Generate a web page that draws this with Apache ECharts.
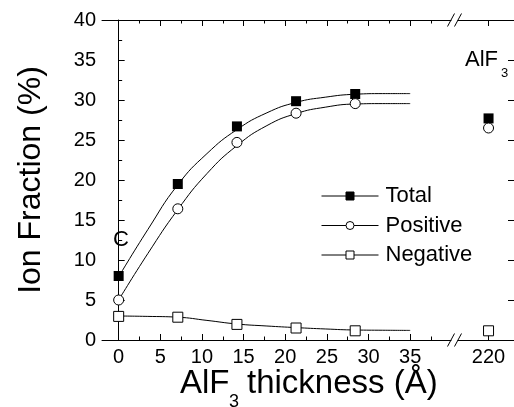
<!DOCTYPE html>
<html>
<head>
<meta charset="utf-8">
<script src="https://cdn.jsdelivr.net/npm/echarts@6/dist/echarts.min.js"></script>
<style>
html,body{margin:0;padding:0;background:#fff;}
#chart{width:514px;height:407px;}
</style>
</head>
<body>
<div id="chart"></div>
<script>
// ---- data ----
const thickness = [0, 7.1, 14.2, 21.3, 28.4];
const totalVals = [8.0, 19.5, 26.7, 29.85, 30.75];
const positiveVals = [5.0, 16.4, 24.7, 28.35, 29.55];
const negativeVals = [2.95, 2.85, 1.95, 1.5, 1.15];

const bulkThickness = [220];
const totalBulk = [27.7];
const positiveBulk = [26.5];
const negativeBulk = [1.15];

const fitX = [0, 3.5, 7.1, 10.6, 14.2, 17.8, 21.3, 24.8, 28.4, 31.7, 35];
const totalFit = [7.9, 13.8, 19.4, 23.3, 26.3, 28.4, 29.7, 30.35, 30.72, 30.8, 30.8];
const positiveFit = [5.0, 10.8, 16.3, 20.8, 24.3, 26.8, 28.3, 29.1, 29.5, 29.55, 29.55];
const negativeFit = [3.0, 2.95, 2.85, 2.45, 2.0, 1.75, 1.55, 1.38, 1.25, 1.22, 1.2];

const xMajorTicks = [0, 5, 10, 15, 20, 25, 30, 35];
const xMinorTicks = [2.5, 7.5, 12.5, 17.5, 22.5, 27.5, 32.5, 37.5];
const bulkTicks = [220];
const seriesNames = ['Total', 'Positive', 'Negative'];

// ---- helpers ----
const pair = (xs, ys) => xs.map((x, i) => [x, ys[i]]);
const FONT = '"Liberation Sans", Arial, sans-serif';
const BLACK = '#000';

function xAxisDef(grid, pos, min, max, ticks, len, showLine, labels) {
  return {
    type: 'value', gridIndex: grid, position: pos, min: min, max: max,
    axisLine: { show: showLine, onZero: false, lineStyle: { color: BLACK, width: 1 } },
    axisTick: { show: true, inside: true, length: len, customValues: ticks, lineStyle: { color: BLACK, width: 1 } },
    axisLabel: labels ? { show: true, customValues: ticks, color: BLACK, fontSize: 20, fontFamily: FONT, margin: 7 } : { show: false },
    splitLine: { show: false }
  };
}

const markerStyles = {
  Total: { symbol: 'rect', itemStyle: { color: BLACK, borderColor: BLACK, borderWidth: 0 } },
  Positive: { symbol: 'circle', itemStyle: { color: '#fff', borderColor: BLACK, borderWidth: 1 } },
  Negative: { symbol: 'rect', itemStyle: { color: '#fff', borderColor: BLACK, borderWidth: 1 } }
};

function pointSeries(name, data, xi, yi) {
  return {
    name: name, type: 'line', xAxisIndex: xi, yAxisIndex: yi, data: data,
    symbol: markerStyles[name].symbol, symbolSize: 10, showSymbol: true,
    itemStyle: markerStyles[name].itemStyle,
    lineStyle: { opacity: 0, width: 1, color: BLACK },
    z: 5, silent: true, clip: false
  };
}

function fitSeries(name, data) {
  return {
    name: name, type: 'line', xAxisIndex: 0, yAxisIndex: 0, data: data,
    symbol: 'none', smooth: true,
    lineStyle: { color: BLACK, width: 1 }, z: 3, silent: true
  };
}

const chart = echarts.init(document.getElementById('chart'), null, { renderer: 'canvas' });

const option = {
  animation: false,
  backgroundColor: '#fff',
  textStyle: { fontFamily: FONT },
  grid: [
    { left: 102, top: 20, width: 349, height: 320 },
    { left: 458, top: 20, width: 56, height: 320 }
  ],
  xAxis: [
    xAxisDef(0, 'bottom', -2, 39.9, xMajorTicks, 6, true, true),
    xAxisDef(0, 'bottom', -2, 39.9, xMinorTicks, 3.5, false, false),
    xAxisDef(0, 'top', -2, 39.9, xMajorTicks, 6, true, false),
    xAxisDef(0, 'top', -2, 39.9, xMinorTicks, 3.5, false, false),
    xAxisDef(1, 'bottom', 216.4, 223, bulkTicks, 6, true, true),
    xAxisDef(1, 'top', 216.4, 223, bulkTicks, 6, true, false)
  ],
  yAxis: [
    {
      type: 'value', gridIndex: 0, position: 'left', min: 0, max: 40, interval: 5,
      axisLine: { show: true, lineStyle: { color: BLACK, width: 1 } },
      axisTick: { show: true, inside: true, length: 6, lineStyle: { color: BLACK } },
      minorTick: { show: true, splitNumber: 2, length: 3.5, lineStyle: { color: BLACK } },
      axisLabel: { color: BLACK, fontSize: 20, fontFamily: FONT, margin: 6 },
      splitLine: { show: false }, minorSplitLine: { show: false }
    },
    {
      type: 'value', gridIndex: 1, position: 'right', min: 0, max: 40, interval: 5,
      axisLine: { show: true, lineStyle: { color: BLACK, width: 1 } },
      axisTick: { show: true, inside: true, length: 6, lineStyle: { color: BLACK } },
      axisLabel: { show: false },
      splitLine: { show: false }
    }
  ],
  legend: {
    data: seriesNames,
    orient: 'vertical', left: 321, top: 185, padding: 0,
    itemWidth: 57, itemHeight: 10, itemGap: 7.5,
    textStyle: { color: BLACK, fontSize: 22, fontFamily: FONT, lineHeight: 22, padding: [0, 0, 0, 2] },
    lineStyle: { color: BLACK, width: 1, opacity: 1, type: 'solid' },
    itemStyle: { borderWidth: 1 },
    selectedMode: false
  },
  series: [
    fitSeries('TotalFit', pair(fitX, totalFit)),
    fitSeries('PositiveFit', pair(fitX, positiveFit)),
    fitSeries('NegativeFit', pair(fitX, negativeFit)),
    pointSeries('Total', pair(thickness, totalVals), 0, 0),
    pointSeries('Positive', pair(thickness, positiveVals), 0, 0),
    pointSeries('Negative', pair(thickness, negativeVals), 0, 0),
    pointSeries('Total', pair(bulkThickness, totalBulk), 4, 1),
    pointSeries('Positive', pair(bulkThickness, positiveBulk), 4, 1),
    pointSeries('Negative', pair(bulkThickness, negativeBulk), 4, 1)
  ],
  graphic: [
    // axis break marks
    { type: 'line', shape: { x1: 447.5, y1: 346.5, x2: 454.5, y2: 333.5 }, style: { stroke: BLACK, lineWidth: 1 } },
    { type: 'line', shape: { x1: 454.5, y1: 346.5, x2: 461.5, y2: 333.5 }, style: { stroke: BLACK, lineWidth: 1 } },
    { type: 'line', shape: { x1: 447.5, y1: 26.5, x2: 454.5, y2: 13.5 }, style: { stroke: BLACK, lineWidth: 1 } },
    { type: 'line', shape: { x1: 454.5, y1: 26.5, x2: 461.5, y2: 13.5 }, style: { stroke: BLACK, lineWidth: 1 } },
    // titles
    { type: 'text', x: 31, y: 180, rotation: Math.PI / 2,
      style: { text: 'Ion Fraction (%)', fontSize: 32, fontFamily: FONT, fill: BLACK, align: 'center', verticalAlign: 'middle' } },
    { type: 'text', x: 180, y: 383.5,
      style: { text: 'AlF', fontSize: 33, fontFamily: FONT, fill: BLACK, align: 'left', verticalAlign: 'middle' } },
    { type: 'text', x: 229, y: 402.5,
      style: { text: '3', fontSize: 18, fontFamily: FONT, fill: BLACK, align: 'left', verticalAlign: 'middle' } },
    { type: 'text', x: 247, y: 383.5,
      style: { text: 'thickness (Å)', fontSize: 33, fontFamily: FONT, fill: BLACK, align: 'left', verticalAlign: 'middle' } },
    // annotations
    { type: 'text', x: 121, y: 240,
      style: { text: 'C', fontSize: 22, fontFamily: FONT, fill: BLACK, align: 'center', verticalAlign: 'middle' } },
    { type: 'text', x: 465, y: 60,
      style: { text: 'AlF', fontSize: 22, fontFamily: FONT, fill: BLACK, align: 'left', verticalAlign: 'middle' } },
    { type: 'text', x: 501, y: 73,
      style: { text: '3', fontSize: 13, fontFamily: FONT, fill: BLACK, align: 'left', verticalAlign: 'middle' } }
  ]
};

chart.setOption(option);
</script>
</body>
</html>
